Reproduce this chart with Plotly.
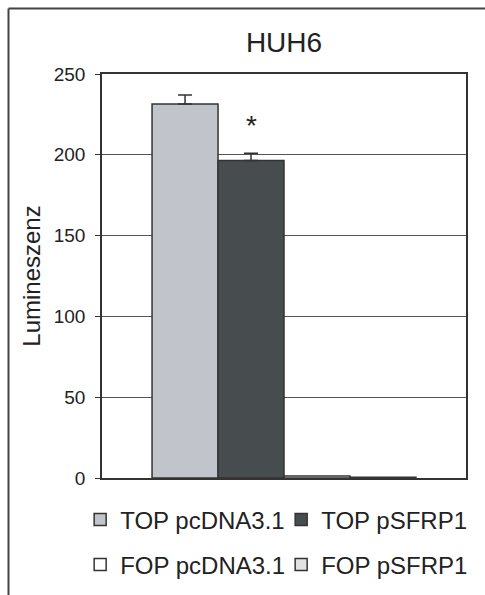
import plotly.graph_objects as go

categories = ["HUH6"]
series_names = ["TOP pcDNA3.1", "TOP pSFRP1", "FOP pcDNA3.1", "FOP pSFRP1"]
values_top_pcdna = [231.5]
values_top_psfrp1 = [196.5]
values_fop_pcdna = [1.2]
values_fop_psfrp1 = [0.5]
errors_top_pcdna = [5.5]
errors_top_psfrp1 = [4.5]
errors_fop_pcdna = [0]
errors_fop_psfrp1 = [0]
y_ticks = [0, 50, 100, 150, 200, 250]
significance_label = "*"

colors = ["#c2c4cc", "#474d4f", "#ffffff", "#e2e2e2"]
edge = "#333333"
font_family = "Liberation Sans, Arial, sans-serif"
BARGAP = 0.275

all_vals = [values_top_pcdna, values_top_psfrp1, values_fop_pcdna, values_fop_psfrp1]
all_errs = [errors_top_pcdna, errors_top_psfrp1, errors_fop_pcdna, errors_fop_psfrp1]

fig = go.Figure()
for i, (name, vals, errs) in enumerate(zip(series_names, all_vals, all_errs)):
    fig.add_trace(go.Bar(
        x=categories, y=vals, name=name,
        marker=dict(color=colors[i], line=dict(color=edge, width=1.5)),
        error_y=dict(type="data", array=errs, arrayminus=[0] * len(errs), symmetric=False,
                     visible=any(e > 0 for e in errs),
                     color=edge, thickness=1.5, width=7),
        legend="legend" if i < 2 else "legend2",
    ))

# asterisk above the second bar (position derived from group geometry)
n = len(series_names)
bar_w = (1 - BARGAP) / n
x_star = -(1 - BARGAP) / 2 + bar_w * 1.5
fig.add_annotation(x=x_star, y=values_top_psfrp1[0] + errors_top_psfrp1[0] + 17,
                   xref="x", yref="y", text=significance_label, showarrow=False,
                   font=dict(size=28, color="#222", family=font_family), yanchor="middle")

legend_common = dict(orientation="h", xanchor="left", yanchor="middle",
                     font=dict(size=24, color="#222", family=font_family),
                     bgcolor="rgba(0,0,0,0)", entrywidth=156, entrywidthmode="pixels",
                     itemwidth=30)

fig.update_layout(
    width=485, height=595,
    margin=dict(l=102, r=19, t=74, b=117, autoexpand=False),
    paper_bgcolor="white", plot_bgcolor="white",
    barmode="group", bargap=BARGAP, bargroupgap=0,
    font=dict(family=font_family, color="#222"),
    title=dict(text="HUH6", x=0.5, xref="paper", xanchor="center",
               y=1 - 42 / 595, yref="container", yanchor="middle",
               font=dict(size=28, color="#222", family=font_family)),
    showlegend=True,
    legend=dict(x=-0.06, y=-0.104, **legend_common),
    legend2=dict(x=-0.06, y=-0.215, **legend_common),
    xaxis=dict(showticklabels=False, ticks="", showline=True, linecolor=edge,
               linewidth=1.5, mirror=True, showgrid=False),
    yaxis=dict(range=[0, 250], tickvals=y_ticks, ticks="outside", ticklen=5,
               tickcolor=edge, tickwidth=1.2, ticklabelstandoff=6,
               showline=True, linecolor=edge, linewidth=1.5, mirror=True,
               showgrid=True, gridcolor="#555555", gridwidth=1, zeroline=False,
               tickfont=dict(size=19, color="#222", family=font_family),
               title=dict(text="Lumineszenz", standoff=6,
                          font=dict(size=24, color="#222", family=font_family))),
)

# outer frame (left and top edges visible)
fx = (8.5 - 102) / 364
fy = (478 - 8.5) / 404
fig.add_shape(type="line", xref="paper", yref="paper", x0=fx, y0=fy, x1=2, y1=fy,
              line=dict(color="#444", width=2))
fig.add_shape(type="line", xref="paper", yref="paper", x0=fx, y0=fy, x1=fx, y1=-2,
              line=dict(color="#444", width=2))

fig.write_html("out.html", config={"displayModeBar": False},
               post_script="document.body.style.margin='0';")
